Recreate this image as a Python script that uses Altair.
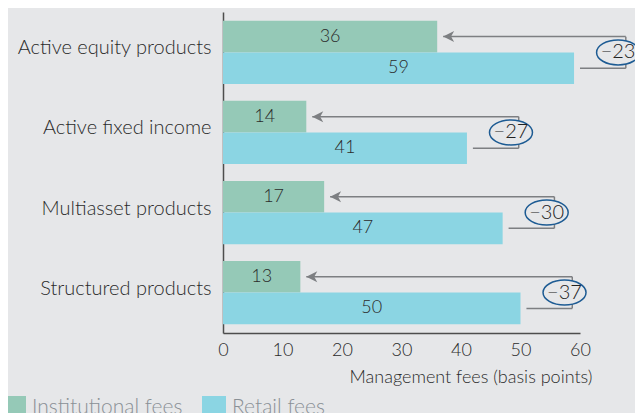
import altair as alt
import pandas as pd

# ---- data ----
categories = ["Active equity products", "Active fixed income",
              "Multiasset products", "Structured products"]
institutional = [36, 14, 17, 13]
retail = [59, 41, 47, 50]
change = [-23, -27, -30, -37]
series_names = ["Institutional fees", "Retail fees"]
x_ticks = [0, 10, 20, 30, 40, 50, 60]

# ---- style ----
FONT = "Lato"
BG = "#e6e7e9"
GREEN = "#95c9b7"
BLUE = "#8bd5e3"
GRAY = "#7d7f82"
NAVY = "#1d5b93"
TEXT = "#2b2b2b"

BRACKET = 8.7   # bracket distance right of retail bar (data units)
GAP = 1.0       # gap between bar end and connector
ELL_SHIFT = 1.3  # ellipse centre left of the bracket (data units)

# ---- tables built from the arrays ----
bar_rows, rule_rows = [], []
for c, i, r in zip(categories, institutional, retail):
    bar_rows.append(dict(category=c, series=series_names[0], value=i))
    bar_rows.append(dict(category=c, series=series_names[1], value=r))
    rule_rows.append(dict(category=c, series=series_names[0], x1=i + GAP, x2=r + BRACKET))
    rule_rows.append(dict(category=c, series=series_names[1], x1=r + GAP, x2=r + BRACKET))
bars_df = pd.DataFrame(bar_rows)
rules_df = pd.DataFrame(rule_rows)
arrow_df = rules_df[rules_df["series"] == series_names[0]]
ann_df = pd.DataFrame(dict(category=categories, retail=retail, change=change))
ann_df["bracket"] = ann_df["retail"] + BRACKET
ann_df["ell"] = ann_df["retail"] + BRACKET - ELL_SHIFT
ann_df["label"] = ["\u2212" + str(abs(v)) for v in change]

# ---- shared encodings ----
xscale = alt.Scale(domain=[0, 60], nice=False)
xaxis = alt.Axis(values=x_ticks, title="Management fees (basis points)",
                 labelFontSize=18, labelPadding=8, labelColor=TEXT, labelFont=FONT,
                 labelFontWeight=300,
                 titleFontSize=18, titleFont=FONT, titleFontWeight=300,
                 titleColor=TEXT, titleX=369, titleY=44, titleAlign="right",
                 titleBaseline="middle", labelFlush=False)


def X(field):
    return alt.X(field, scale=xscale, axis=xaxis)


Y = alt.Y("category:N", sort=categories, title=None,
          scale=alt.Scale(paddingInner=0.21, paddingOuter=0.11),
          axis=alt.Axis(labelFontSize=20, labelPadding=12, labelOffset=-4,
                        labelColor=TEXT, labelFont=FONT, labelFontWeight=300,
                        labelLimit=400))
YO = alt.YOffset("series:N", sort=series_names,
                 scale=alt.Scale(paddingInner=0, paddingOuter=0))

bars = alt.Chart(bars_df).mark_bar().encode(
    x=X("value:Q"), y=Y, yOffset=YO,
    color=alt.Color("series:N", sort=series_names,
                    scale=alt.Scale(domain=series_names, range=[GREEN, BLUE]),
                    legend=alt.Legend(orient="none", legendX=-221, legendY=384,
                                      direction="horizontal", title=None,
                                      symbolType="square", symbolSize=576,
                                      symbolStrokeWidth=0, symbolOpacity=1,
                                      labelFontSize=21, labelFont=FONT,
                                      labelFontWeight=300,
                                      labelColor="#8a9096", labelOffset=6,
                                      columnPadding=19, padding=0)))

values = alt.Chart(bars_df).transform_calculate(mid="datum.value / 2").mark_text(
    fontSize=18, font=FONT, fontWeight=300, color=TEXT).encode(
    x=X("mid:Q"), y=Y, yOffset=YO, text="value:Q")

rules = alt.Chart(rules_df).mark_rule(color=GRAY, strokeWidth=1.5).encode(
    x=X("x1:Q"), x2="x2:Q", y=Y, yOffset=YO)

bracket = alt.Chart(ann_df).mark_tick(orient="vertical", size=31.6, thickness=1.5,
                                      color=GRAY, opacity=1).encode(
    x=X("bracket:Q"), y=Y)

arrows = alt.Chart(arrow_df).mark_point(
    shape="M0,0 L1.8,-0.9 L1.3,0 L1.8,0.9 Z", size=149, filled=True,
    color=GRAY, opacity=1).encode(x=X("x1:Q"), y=Y, yOffset=YO)

ellipses = alt.Chart(ann_df).mark_point(
    shape="M -1 0 A 1 0.58 0 1 1 1 0 A 1 0.58 0 1 1 -1 0 Z", size=1849,
    filled=True, fill=BG, stroke=NAVY, strokeWidth=1.5, opacity=1,
    fillOpacity=1, strokeOpacity=1).encode(x=X("ell:Q"), y=Y)

ell_text = alt.Chart(ann_df).mark_text(fontSize=20, font=FONT, fontWeight=300,
                                       color="#222222").encode(
    x=X("ell:Q"), y=Y, text="label:N")

chart = alt.layer(bars, values, rules, bracket, arrows, ellipses, ell_text).properties(
    width=357, height=321,
    autosize=alt.AutoSizeParams(type="none"),
    padding={"left": 215, "top": 4, "right": 55, "bottom": 80},
    background=BG,
).configure_view(stroke=None).configure_axis(
    domainColor="#4d4d4d", domainWidth=1.5, ticks=False, grid=False)

chart.save("out.html", embed_options={"renderer": "svg", "actions": False})
